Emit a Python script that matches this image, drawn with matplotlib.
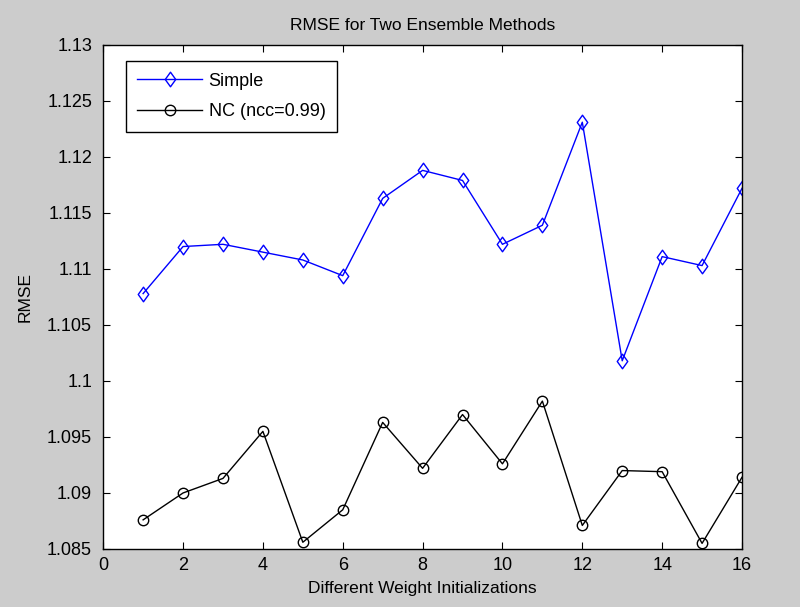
import matplotlib.pyplot as plt
from matplotlib.path import Path

plt.rcParams['font.family'] = ['Liberation Sans', 'DejaVu Sans']

runs = list(range(1, 17))
simple_rmse = [1.1078, 1.1120, 1.1122, 1.1115, 1.1108, 1.1094, 1.1163, 1.1188,
               1.1179, 1.1122, 1.1139, 1.1231, 1.1018, 1.1111, 1.1103, 1.1172]
nc_rmse = [1.0876, 1.0900, 1.0913, 1.0955, 1.0856, 1.0885, 1.0963, 1.0922,
           1.0970, 1.0926, 1.0982, 1.0871, 1.0920, 1.0919, 1.0855, 1.0914]
x_ticks = [0, 2, 4, 6, 8, 10, 12, 14, 16]
y_ticks = [1.085, 1.09, 1.095, 1.1, 1.105, 1.11, 1.115, 1.12, 1.125, 1.13]
y_labels = ['1.085', '1.09', '1.095', '1.1', '1.105', '1.11', '1.115', '1.12', '1.125', '1.13']

# matlab style diamond, a bit taller than wide
diamond = Path([(0, 1), (0.72, 0), (0, -1), (-0.72, 0), (0, 1)],
               [Path.MOVETO, Path.LINETO, Path.LINETO, Path.LINETO, Path.CLOSEPOLY])

fig = plt.figure(figsize=(8, 6.07), dpi=100, facecolor='#cccccc')
ax = fig.add_axes([0.129, 0.0956, 0.7985, 0.8304])
ax.set_facecolor('white')

ax.plot(runs, simple_rmse, color='blue', marker=diamond, markersize=10.5,
        markerfacecolor='none', markeredgecolor='blue', linewidth=1, label='Simple')
ax.plot(runs, nc_rmse, color='black', marker='o', markersize=7.5,
        markerfacecolor='none', markeredgecolor='black', linewidth=1, label='NC (ncc=0.99)')

ax.set_xlim(0, 16)
ax.set_ylim(1.085, 1.13)
ax.set_xticks(x_ticks)
ax.set_yticks(y_ticks)
ax.set_yticklabels(y_labels)
ax.tick_params(direction='in', top=True, right=True, length=5, labelsize=13)
ax.tick_params(axis='y', pad=8)
ax.tick_params(axis='x', pad=6)
for s in ax.spines.values():
    s.set_linewidth(1)

ax.set_title('RMSE for Two Ensemble Methods', fontsize=12.5, pad=11)
ax.set_xlabel('Different Weight Initializations', fontsize=12.5, labelpad=5)
ax.set_ylabel('RMSE', fontsize=12.5, labelpad=10)

leg = ax.legend(loc='upper left', bbox_to_anchor=(0.035, 0.968), fontsize=13,
                fancybox=False, framealpha=1, edgecolor='black', handlelength=3.6,
                handletextpad=0.35, borderpad=0.65, labelspacing=0.75, borderaxespad=0)
leg.get_frame().set_linewidth(1)

fig.savefig('out.png', dpi=100, facecolor=fig.get_facecolor())
